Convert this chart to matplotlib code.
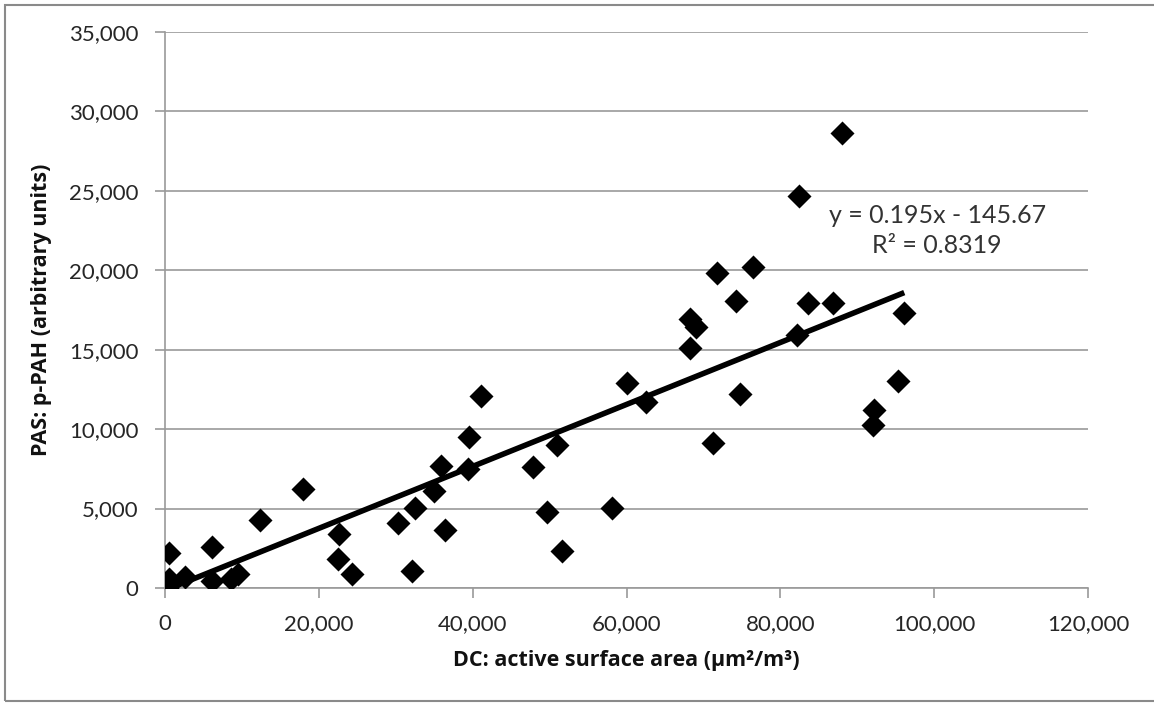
import matplotlib
matplotlib.use("Agg")
import matplotlib.pyplot as plt
from matplotlib.patches import Rectangle
from matplotlib.ticker import FuncFormatter

# DC active surface area (x) vs PAS p-PAH (y)
dc_area = [100, 300, 700, 500, 560, 2600, 6070, 6070, 8600, 9450,
           12350, 17900, 22660, 22530, 24270, 30330, 32500, 32070, 35000, 35840,
           36400, 39560, 39430, 41080, 47880, 50920, 49620, 51570, 58070, 60020,
           62530, 71280, 87970, 82460, 71720, 76480, 74190, 68250, 69030, 68250,
           74750, 82110, 83630, 86880, 96110, 95330, 92210, 92000]
pas_pah = [300, 0, 250, 550, 2190, 700, 2550, 420, 560, 900,
           4280, 6200, 3420, 1830, 900, 4100, 5050, 1050, 6100, 7680,
           3650, 9480, 7470, 12060, 7600, 9000, 4800, 2300, 5020, 12900,
           11700, 9100, 28620, 24700, 19850, 20230, 18070, 16920, 16410, 15130,
           12190, 15930, 17920, 17920, 17290, 13050, 11200, 10260]

slope = 0.195
intercept = -145.67
r_squared = 0.8319

plt.rcParams['font.family'] = ['Lato', 'DejaVu Sans']

fig = plt.figure(figsize=(11.54, 7.03), dpi=100)
ax = fig.add_axes([0.143, 0.1636, 0.7998, 0.7909])

grey = '#9a9a9a'
text_col = '#262626'

ax.scatter(dc_area, pas_pah, marker='D', s=150, color='black', zorder=3, linewidths=0)

# linear trend line over the data range
x_fit = [min(dc_area), max(dc_area)]
y_fit = [slope * v + intercept for v in x_fit]
ax.plot(x_fit, y_fit, color='black', linewidth=4, solid_capstyle='butt', zorder=4)

ax.text(100400, 22500, 'y = 0.195x - 145.67\nR\u00b2 = %.4f' % r_squared,
        ha='center', va='center', fontsize=18, color='#333333', linespacing=1.35)

ax.set_xlim(0, 120000)
ax.set_ylim(0, 35000)
ax.set_xticks(range(0, 120001, 20000))
ax.set_yticks(range(0, 35001, 5000))
fmt = FuncFormatter(lambda v, p: '{:,.0f}'.format(v))
ax.xaxis.set_major_formatter(fmt)
ax.yaxis.set_major_formatter(fmt)

ax.grid(axis='y', color=grey, linewidth=1.2)
ax.set_axisbelow(True)
for side in ['top', 'right']:
    ax.spines[side].set_visible(False)
for side in ['left', 'bottom']:
    ax.spines[side].set_color(grey)
    ax.spines[side].set_linewidth(1.2)
ax.tick_params(axis='both', colors=grey, length=7, width=1.2, labelsize=16,
               labelcolor=text_col)
ax.tick_params(axis='x', pad=12)
ax.tick_params(axis='y', pad=12)

label_font = dict(family=['Open Sans', 'DejaVu Sans'], size=15.5,
                  weight='bold', color='#111111')
ax.set_xlabel('DC: active surface area (\u00b5m\u00b2/m\u00b3)', labelpad=11, **label_font)
ax.set_ylabel('PAS: p-PAH (arbitrary units)', labelpad=12, **label_font)

# outer chart border
fig.patches.append(Rectangle((5 / 1154, 2 / 703), 1.0, 1 - 7 / 703,
                             transform=fig.transFigure, fill=False,
                             edgecolor='#8a8a8a', linewidth=1.5))

fig.savefig('out.png', dpi=100)
